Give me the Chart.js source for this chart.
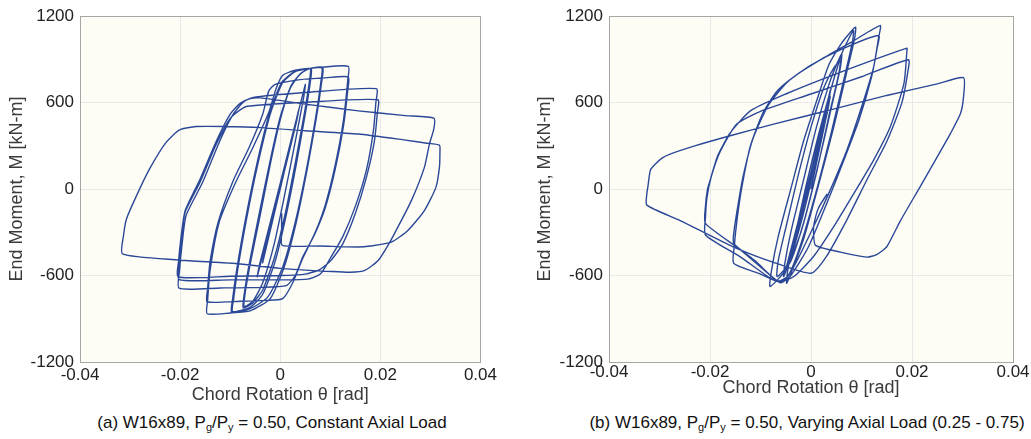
<!DOCTYPE html>
<html>
<head>
<meta charset="utf-8">
<script src="https://cdn.jsdelivr.net/npm/chart.js@4.4.1/dist/chart.umd.min.js"></script>
<style>
  html, body { margin:0; padding:0; background:#ffffff; }
  body { width:1031px; height:439px; position:relative; overflow:hidden; font-family:"Liberation Sans", Arial, Helvetica, sans-serif; }
  .box { position:absolute; top:0; height:410px; }
  .cap { position:absolute; top:413px; font-size:17px; color:#111111; white-space:nowrap; text-align:center; }
  .cap sub { font-size:11px; vertical-align:-3px; line-height:0; }
</style>
</head>
<body>
<div class="box" id="boxA" style="left:0;width:500px;"><canvas id="chartA"></canvas></div>
<div class="box" id="boxB" style="left:525px;width:506px;"><canvas id="chartB"></canvas></div>
<div class="cap" style="left:72px;width:400px;">(a) W16x89, P<sub>g</sub>/P<sub>y</sub> = 0.50, Constant Axial Load</div>
<div class="cap" style="left:582px;width:450px;">(b) W16x89, P<sub>g</sub>/P<sub>y</sub> = 0.50, Varying Axial Load (0.25 - 0.75)</div>
<script>
// ---- axis ticks ----
const rotationTicks = [-0.04, -0.02, 0, 0.02, 0.04];
const momentTicks = [-1200, -600, 0, 600, 1200];
const xAxisTitle = 'Chord Rotation θ [rad]';
const yAxisTitle = 'End Moment, M [kN-m]';

// ---- (a) constant axial load : [rotation (rad), moment (kN-m)] ----
const elasticA = [[0,0],[0.0036,540],[0.0031,450],[-0.0001,-10],[-0.0035,-510],[-0.0030,-420],[0.0001,15],[0.0037,550],[0.0032,460],[-0.0002,-20],[-0.0046,-607],[-0.0041,-520],[0.0000,40],[0.0050,725]];
const cycles075A = [[0.0047,640],[0.0030,330],[0.0010,-20],[-0.0012,-380],[-0.0035,-650],[-0.0055,-780],[-0.0072,-815],
  [-0.0070,-720],[-0.0060,-520],[-0.0040,-180],[-0.0020,170],[0.0000,480],[0.0020,700],[0.0040,800],[0.0060,835],
  [0.0058,740],[0.0048,520],[0.0030,180],[0.0010,-170],[-0.0012,-480],[-0.0035,-700],[-0.0055,-790],[-0.0074,-825],
  [-0.0072,-730],[-0.0062,-520],[-0.0042,-170],[-0.0020,200],[0.0000,500],[0.0022,720],[0.0042,805],[0.0062,838]];
const cycles10A = [[0.0060,740],[0.0050,520],[0.0032,170],[0.0012,-180],[-0.0010,-500],[-0.0035,-730],[-0.0060,-820],[-0.0095,-850],
  [-0.0093,-760],[-0.0085,-560],[-0.0068,-220],[-0.0045,170],[-0.0020,520],[0.0005,740],[0.0030,815],[0.0055,835],[0.0083,842],
  [0.0081,740],[0.0070,480],[0.0052,130],[0.0030,-230],[0.0005,-540],[-0.0025,-750],[-0.0060,-830],[-0.0097,-855],
  [-0.0095,-760],[-0.0087,-560],[-0.0070,-220],[-0.0047,170],[-0.0022,520],[0.0003,740],[0.0030,818],[0.0060,838],[0.0085,845]];
const cycles15A = [[0.0083,750],[0.0072,490],[0.0054,140],[0.0032,-230],[0.0008,-540],[-0.0020,-760],[-0.0060,-845],[-0.0100,-860],[-0.0146,-865],
  [-0.0145,-770],[-0.0140,-560],[-0.0122,-230],[-0.0089,47],[-0.0056,278],[-0.0023,531],[-0.0008,700],[0.0005,790],[0.0030,825],[0.0080,845],[0.0136,852],
  [0.0135,760],[0.0126,470],[0.0110,170],[0.0090,-110],[0.0070,-300],[0.0045,-480],[0.0025,-650],[0.0005,-760],[-0.0030,-772],[-0.0080,-778],[-0.0146,-782],
  [-0.0145,-690],[-0.0140,-500],[-0.0124,-230],[-0.0095,50],[-0.0062,290],[-0.0035,520],[-0.0023,680],[-0.0010,727],[0.0040,760],[0.0090,772],[0.0136,778]];
const cycles20A = [[0.0135,690],[0.0126,430],[0.0110,140],[0.0090,-130],[0.0068,-320],[0.0045,-470],[0.0030,-600],[0.0012,-670],[-0.0040,-682],[-0.0120,-686],[-0.0202,-688],
  [-0.0201,-560],[-0.0196,-380],[-0.0188,-183],[-0.0155,47],[-0.0122,324],[-0.0096,508],[-0.0075,600],[-0.0056,635],[0.0050,670],[0.0192,697],
  [0.0191,600],[0.0186,400],[0.0172,130],[0.0150,-120],[0.0125,-330],[0.0100,-480],[0.0080,-590],[0.0055,-625],[0.0000,-630],[-0.0100,-630],[-0.0202,-628],
  [-0.0201,-500],[-0.0197,-330],[-0.0190,-160],[-0.0160,50],[-0.0128,310],[-0.0100,490],[-0.0080,550],[-0.0065,575],[0.0050,603],[0.0195,620],
  [0.0194,530],[0.0188,330],[0.0172,80],[0.0150,-170],[0.0125,-380],[0.0100,-500],[0.0078,-560],[0.0050,-590],[0.0000,-600],[-0.0100,-605],[-0.0204,-610]];
const cycles30A = [[-0.0203,-500],[-0.0198,-330],[-0.0190,-150],[-0.0160,70],[-0.0128,330],[-0.0100,520],[-0.0080,595],[-0.0060,628],[-0.0040,633],[0.0050,590],[0.0156,543],[0.0250,510],[0.0307,492],
  [0.0307,420],[0.0298,312],[0.0288,151],[0.0262,-80],[0.0235,-264],[0.0219,-368],[0.0196,-494],[0.0169,-564],[0.0140,-577],[0.0103,-572],[0.0000,-550],[-0.0096,-515],[-0.0202,-492],[-0.0315,-450],
  [-0.0313,-322],[-0.0307,-206],[-0.0287,-45],[-0.0261,140],[-0.0228,324],[-0.0201,411],[-0.0168,434],[-0.0109,434],[-0.0040,427],[0.0050,405],[0.0156,382],[0.0250,340],[0.0290,320],[0.0318,305],
  [0.0319,250],[0.0318,151],[0.0311,12],[0.0288,-149],[0.0255,-287],[0.0222,-368],[0.0180,-395],[0.0156,-402],[0.0080,-395],[0.0004,-390],[0.0003,-300],[0.0003,-168]];

// ---- (b) varying axial load : [rotation (rad), moment (kN-m)] ----
const elasticB = [[0,0],[0.0020,330],[0.0036,600],[0.0031,510],[-0.0002,50],[-0.0040,-470],[-0.0035,-400],[0.0001,100],[0.0038,640],[0.0033,560],[-0.0003,60],[-0.0050,-560],[-0.0045,-490],[0.0000,120],[0.0038,685]];
const cycles075B = [[0.0035,600],[0.0015,280],[-0.0010,-100],[-0.0035,-420],[-0.0054,-607],
  [-0.0052,-520],[-0.0040,-300],[-0.0015,60],[0.0010,420],[0.0035,720],[0.0050,860],[0.0061,939],
  [0.0058,840],[0.0040,560],[0.0015,180],[-0.0012,-200],[-0.0040,-500],[-0.0067,-607],
  [-0.0065,-500],[-0.0050,-270],[-0.0025,100],[0.0000,430],[0.0025,700],[0.0045,840],[0.0058,893]];
const cycles10B = [[0.0055,800],[0.0035,500],[0.0010,100],[-0.0020,-300],[-0.0050,-560],[-0.0081,-676],
  [-0.0078,-560],[-0.0065,-330],[-0.0040,0],[-0.0015,330],[0.0010,600],[0.0035,860],[0.0060,1010],[0.0088,1124],
  [0.0086,1040],[0.0070,800],[0.0045,430],[0.0015,30],[-0.0015,-350],[-0.0048,-653],
  [-0.0046,-560],[-0.0032,-330],[-0.0010,20],[0.0015,380],[0.0040,700],[0.0062,950],[0.0084,1100]];
const cycles15B = [[0.0082,1020],[0.0065,760],[0.0040,390],[0.0010,-20],[-0.0020,-380],[-0.0045,-600],[-0.0065,-640],[-0.0100,-590],[-0.0153,-515],
  [-0.0152,-400],[-0.0146,-200],[-0.0137,12],[-0.0120,300],[-0.0095,530],[-0.0067,681],[-0.0030,790],[0.0020,900],[0.0080,1020],[0.0137,1135],
  [0.0134,1055],[0.0124,847],[0.0098,547],[0.0071,270],[0.0038,-7],[0.0005,-261],[-0.0034,-538],[-0.0055,-640],[-0.0070,-630],[-0.0110,-500],[-0.0153,-376],
  [-0.0152,-280],[-0.0145,-120],[-0.0135,80],[-0.0115,350],[-0.0085,580],[-0.0048,739],[0.0000,860],[0.0060,970],[0.0134,1066]];
const cycles20B = [[0.0131,980],[0.0120,780],[0.0095,480],[0.0065,200],[0.0030,-110],[-0.0005,-400],[-0.0040,-600],[-0.0060,-650],[-0.0080,-600],[-0.0140,-420],[-0.0209,-238],
  [-0.0209,-120],[-0.0205,0],[-0.0200,59],[-0.0185,230],[-0.0160,390],[-0.0120,543],[-0.0050,660],[0.0050,800],[0.0190,978],
  [0.0190,962],[0.0184,732],[0.0157,432],[0.0124,201],[0.0085,-30],[0.0045,-261],[0.0005,-468],[-0.0034,-607],[-0.0060,-640],[-0.0080,-620],[-0.0140,-470],[-0.0209,-318],
  [-0.0209,-200],[-0.0206,-60],[-0.0198,80],[-0.0180,260],[-0.0147,451],[-0.0100,540],[0.0000,660],[0.0100,780],[0.0193,898]];
const cycles30B = [[0.0192,820],[0.0180,600],[0.0150,330],[0.0110,60],[0.0070,-220],[0.0030,-470],[0.0000,-584],[-0.0067,-517],[-0.0153,-402],[-0.0259,-218],[-0.0325,-111],
  [-0.0325,-30],[-0.0323,16],[-0.0318,132],[-0.0308,174],[-0.0295,215],[-0.0279,243],[-0.0230,300],[-0.0160,370],[-0.0074,451],[0.0050,560],[0.0150,650],[0.0250,730],[0.0302,773],
  [0.0302,640],[0.0296,524],[0.0276,385],[0.0250,224],[0.0216,16],[0.0177,-220],[0.0150,-400],[0.0130,-455],[0.0111,-472],[0.0058,-437],[0.0009,-391],[0.0005,-300],[0.0006,-241],[0.0015,-130],[0.0032,-33]];

const pathA = [].concat(elasticA, cycles075A, cycles10A, cycles15A, cycles20A, cycles30A);
const pathB = [].concat(elasticB, cycles075B, cycles10B, cycles15B, cycles20B, cycles30B);

const LINE = '#2b4898';
const FONT = '"Liberation Sans", Arial, Helvetica, sans-serif';

const framePlugin = {
  id: 'frame',
  beforeDraw(chart) {
    const {ctx, chartArea: a} = chart;
    ctx.save();
    ctx.fillStyle = '#fdfdf5';
    ctx.fillRect(a.left, a.top, a.right - a.left, a.bottom - a.top);
    ctx.restore();
  },
  afterDraw(chart) {
    const {ctx, chartArea: a} = chart;
    ctx.save();
    ctx.strokeStyle = '#a6a6a6';
    ctx.lineWidth = 1;
    ctx.strokeRect(Math.round(a.left) + 0.5, Math.round(a.top) + 0.5, Math.round(a.right - a.left), Math.round(a.bottom - a.top));
    ctx.restore();
  }
};

function makeChart(id, path, yWidth, padRight, yTitlePad, xTickPad, xTitlePad) {
  return new Chart(document.getElementById(id), {
    type: 'scatter',
    data: {
      datasets: [{
        data: path.map(p => ({x: p[0], y: p[1]})),
        showLine: true,
        borderColor: LINE,
        borderWidth: 1.4,
        pointRadius: 0,
        tension: 0.2,
        fill: false
      }]
    },
    options: {
      responsive: true,
      maintainAspectRatio: false,
      animation: false,
      events: [],
      layout: { padding: { top: 15, right: padRight, left: 0, bottom: 0 } },
      plugins: { legend: { display: false }, tooltip: { enabled: false } },
      scales: {
        x: {
          type: 'linear',
          min: rotationTicks[0], max: rotationTicks[rotationTicks.length - 1],
          afterBuildTicks: s => { s.ticks = rotationTicks.map(v => ({value: v})); },
          afterFit: s => { s.height = 48; },
          ticks: {
            padding: xTickPad, color: '#222222', maxRotation: 0, autoSkip: false,
            font: { family: FONT, size: 17 },
            callback: v => (Math.abs(v) < 1e-9 ? '0' : v.toFixed(2))
          },
          grid: { color: '#e9e9e9', drawTicks: false },
          border: { display: false },
          title: { display: true, text: xAxisTitle, color: '#3a3a3a', font: { family: FONT, size: 18 }, padding: { top: 0, bottom: xTitlePad } }
        },
        y: {
          type: 'linear',
          min: momentTicks[0], max: momentTicks[momentTicks.length - 1],
          afterBuildTicks: s => { s.ticks = momentTicks.map(v => ({value: v})); },
          afterFit: s => { s.width = yWidth; },
          ticks: {
            padding: 6, color: '#222222', autoSkip: false,
            font: { family: FONT, size: 17 },
            callback: v => String(v)
          },
          grid: { color: '#e9e9e9', drawTicks: false },
          border: { display: false },
          title: { display: true, text: yAxisTitle, color: '#3a3a3a', font: { family: FONT, size: 18 }, padding: { top: yTitlePad, bottom: 0 } }
        }
      }
    },
    plugins: [framePlugin]
  });
}

makeChart('chartA', pathA, 80, 17, 6, 3, 4);
makeChart('chartB', pathB, 84, 18, 9, 0, 11);
</script>
</body>
</html>
